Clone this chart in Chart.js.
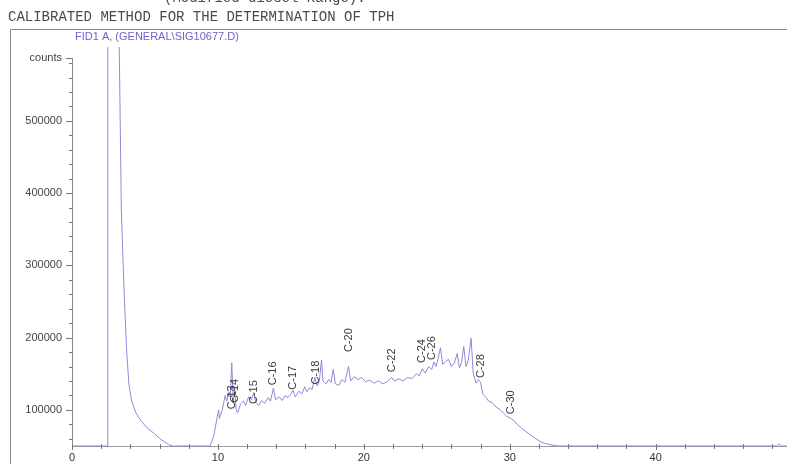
<!doctype html>
<html>
<head>
<title>Calibrated method for the determination of TPH</title>
<script src="https://cdn.jsdelivr.net/npm/chart.js@4.4.0/dist/chart.umd.min.js"></script>
<style>
    html, body { margin: 0; padding: 0; background: #fff; overflow: hidden; }
    #wrap { width: 787px; height: 464px; }
</style>
</head>

<body>
<div id="wrap"><canvas id="chart"></canvas></div>

<script>
    // retention time (min) and detector counts
    const times = [0, 2.42, 2.45, 3.05, 3.38, 3.59, 3.75, 3.9, 4.07, 4.35, 4.69, 5.1, 5.59, 6.1, 6.62, 6.9,
        9.45, 9.7, 9.95, 10.05, 10.1, 10.3, 10.5, 10.6, 10.75, 10.85, 10.95, 11.05, 11.15, 11.25, 11.35, 11.55, 11.75, 11.9,
        12.1, 12.3, 12.45, 12.6, 12.8, 13.0, 13.2, 13.45, 13.6, 13.8, 13.95, 14.2, 14.4, 14.6, 14.8, 15.0, 15.15, 15.3,
        15.55, 15.75, 15.95, 16.1, 16.3, 16.45, 16.65, 16.8, 16.95, 17.1, 17.2, 17.4, 17.6, 17.75, 17.9, 18.05, 18.3,
        18.5, 18.7, 18.95, 19.1, 19.35, 19.6, 19.85, 20.1, 20.4, 20.7, 21.0, 21.3, 21.6, 21.9, 22.1, 22.4, 22.7, 23.0,
        23.3, 23.6, 23.8, 24.0, 24.2, 24.45, 24.65, 24.8, 24.95, 25.1, 25.25, 25.4, 25.6, 25.8, 26.0, 26.2, 26.4, 26.55,
        26.7, 26.85, 27.0, 27.15, 27.35, 27.5, 27.7, 27.85, 28.0, 28.15, 28.35, 28.55, 28.8, 29.05, 29.3, 29.55, 29.8,
        30.1, 30.25, 30.5, 30.8, 31.1, 31.45, 31.8, 32.2, 32.7, 33.3, 48.3, 48.45, 48.6, 49];
    const counts = [50000, 50000, 900000, 900000, 378000, 253000, 180000, 135000, 114000, 97000, 86000, 76000, 68000, 59000, 52000, 50000,
        50000, 62500, 90000, 100000, 88000, 100000, 120000, 112000, 125000, 118000, 165000, 110000, 128000, 100000, 96000, 108000, 112000, 106000,
        118000, 114000, 124000, 110000, 106000, 113000, 109000, 117000, 112000, 130000, 114000, 118000, 113000, 120000, 117000, 122000, 127000, 118000,
        126000, 122000, 132000, 125000, 131000, 128000, 145000, 133000, 140000, 169000, 140000, 136000, 142000, 138000, 156000, 136000, 134000,
        142000, 138000, 160000, 140000, 146000, 142000, 145000, 139000, 141000, 137000, 140000, 136000, 139000, 145000, 140000, 143000, 140000, 145000,
        143000, 150000, 147000, 157000, 151000, 160000, 156000, 166000, 160000, 172000, 186000, 163000, 167000, 170000, 160000, 165000, 178000, 158000,
        166000, 188000, 160000, 168000, 199000, 150000, 137000, 142000, 138000, 122000, 118000, 112000, 110000, 104000, 101000, 96000, 91000,
        88000, 86000, 80000, 75000, 70000, 65000, 60000, 55000, 52000, 50000, 50000, 53000, 50000, 50000];

    // labelled alkane peaks
    const peakNames = ['C-13', 'C-14', 'C-15', 'C-16', 'C-17', 'C-18', 'C-20', 'C-22', 'C-24', 'C-26', 'C-28', 'C-30'];
    const peakTimes = [10.95, 11.2, 12.5, 13.8, 15.15, 16.7, 19.0, 21.95, 24.0, 24.7, 28.05, 30.1];
    const peakHeights = [101000, 110000, 108000, 134000, 128000, 135000, 180000, 152000, 165000, 169000, 144000, 94000];

    const yMajor = [100000, 200000, 300000, 400000, 500000];
    const xMajor = [0, 10, 20, 30, 40];
    const yMin = 50000, yMax = 587000;
    const xMax = 49;

    const points = times.map((t, i) => ({x: t, y: counts[i]}));

    const framePlugin = {
        id: 'frame',
        beforeDraw(chart) {
            const ctx = chart.ctx;
            ctx.save();
            ctx.strokeStyle = '#8a8a8a';
            ctx.lineWidth = 1;
            ctx.beginPath();
            ctx.moveTo(10.5, chart.height);
            ctx.lineTo(10.5, 29.5);
            ctx.lineTo(chart.width, 29.5);
            ctx.stroke();

            ctx.textBaseline = 'middle';
            ctx.textAlign = 'left';
            ctx.fillStyle = '#4a4a4a';
            ctx.font = '14px "Liberation Mono", monospace';
            ctx.fillText('(Modified diesel Range).', 164, -2);
            ctx.fillText('CALIBRATED METHOD FOR THE DETERMINATION OF TPH', 8, 17);
            ctx.fillStyle = '#6b63c9';
            ctx.font = '11px "Liberation Sans", Arial, sans-serif';
            ctx.fillText('FID1 A, (GENERAL\\SIG10677.D)', 75, 37);
            ctx.restore();
        },
        afterDraw(chart) {
            // tick marks: long on labelled values, short in between
            const ctx = chart.ctx;
            const xs = chart.scales.x, ys = chart.scales.y;
            ctx.save();
            ctx.strokeStyle = '#777';
            ctx.lineWidth = 1;
            ctx.beginPath();
            ys.ticks.forEach(tk => {
                const y = Math.round(ys.getPixelForValue(tk.value)) + 0.5;
                const len = (yMajor.includes(tk.value) || tk.value === yMax) ? 6 : 3;
                ctx.moveTo(ys.right - len, y);
                ctx.lineTo(ys.right, y);
            });
            xs.ticks.forEach(tk => {
                const x = Math.round(xs.getPixelForValue(tk.value)) + 0.5;
                const len = xMajor.includes(tk.value) ? 4 : 3;
                ctx.moveTo(x, xs.top - 2);
                ctx.lineTo(x, xs.top + len);
            });
            ctx.stroke();
            ctx.restore();
        }
    };

    const peakLabelPlugin = {
        id: 'peakLabels',
        afterDatasetsDraw(chart) {
            const ctx = chart.ctx;
            const xs = chart.scales.x, ys = chart.scales.y;
            ctx.save();
            ctx.fillStyle = '#3a3a3a';
            ctx.font = '11px "Liberation Sans", Arial, sans-serif';
            ctx.textAlign = 'left';
            ctx.textBaseline = 'middle';
            peakNames.forEach((name, i) => {
                ctx.save();
                ctx.translate(xs.getPixelForValue(peakTimes[i]), ys.getPixelForValue(peakHeights[i]));
                ctx.rotate(-Math.PI / 2);
                ctx.fillText(name, 0, 0);
                ctx.restore();
            });
            ctx.restore();
        }
    };

    const ctx = document.getElementById('chart');

    const myChart = new Chart(ctx, {
        type: 'line',
        data: {
            datasets: [{
                label: 'FID1 A',
                data: points,
                borderColor: '#9387da',
                borderWidth: 1,
                pointRadius: 0,
                tension: 0,
                clip: {left: 0, top: 11, right: 0, bottom: 2}
            }]
        },
        options: {
            responsive: true,
            maintainAspectRatio: false,
            animation: false,
            layout: {
                padding: {left: 10, top: 58, right: 0, bottom: 0}
            },
            plugins: {
                legend: {display: false},
                tooltip: {enabled: false}
            },
            scales: {
                x: {
                    type: 'linear',
                    min: 0,
                    max: xMax,
                    afterBuildTicks: scale => {
                        const tk = [];
                        for (let v = 0; v <= 48; v += 2) tk.push({value: v});
                        scale.ticks = tk;
                    },
                    afterFit: scale => { scale.height = 18; },
                    grid: {display: false, drawTicks: false},
                    border: {display: true, color: '#9a9a9a'},
                    ticks: {
                        autoSkip: false,
                        maxRotation: 0,
                        padding: 5,
                        color: '#333',
                        font: {family: '"Liberation Sans", Arial, sans-serif', size: 11},
                        callback: v => xMajor.includes(v) ? String(v) : ''
                    }
                },
                y: {
                    min: yMin,
                    max: yMax,
                    afterBuildTicks: scale => {
                        const tk = [];
                        for (let v = 60000; v <= 580000; v += 20000) tk.push({value: v});
                        tk.push({value: yMax});
                        scale.ticks = tk;
                    },
                    afterFit: scale => { scale.width = 62; },
                    grid: {display: false, drawTicks: false},
                    border: {display: true, color: '#8a8a8a'},
                    ticks: {
                        autoSkip: false,
                        padding: 10,
                        color: '#444',
                        font: {family: '"Liberation Sans", Arial, sans-serif', size: 11},
                        callback: v => v === yMax ? 'counts' : (yMajor.includes(v) ? String(v) : '')
                    }
                }
            }
        },
        plugins: [framePlugin, peakLabelPlugin]
    });
</script>

</body>
</html>
